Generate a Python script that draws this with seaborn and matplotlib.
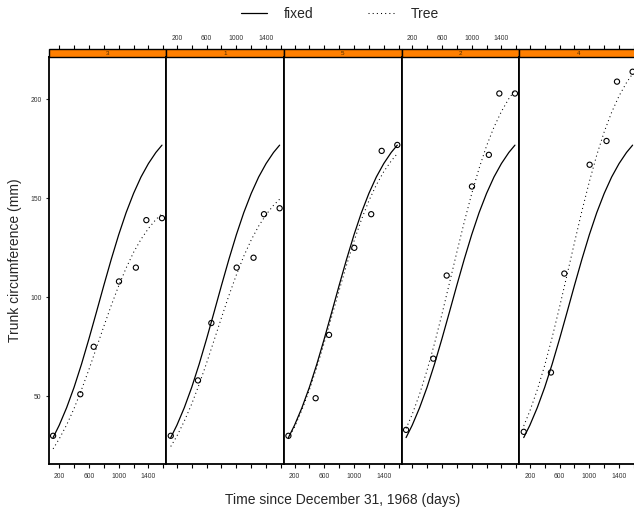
import numpy as np
import pandas as pd
import matplotlib.pyplot as plt
import seaborn as sns
from matplotlib.lines import Line2D
from matplotlib.patches import Rectangle

sns.set_style("white")
plt.rcParams['font.family'] = ['Liberation Sans', 'DejaVu Sans']

# panel order (trees ordered by max circumference)
trees = ['3', '1', '5', '2', '4']

# observed data
ages = [118, 484, 664, 1004, 1231, 1372, 1582]
circ_3 = [30, 51, 75, 108, 115, 139, 140]
circ_1 = [30, 58, 87, 115, 120, 142, 145]
circ_5 = [30, 49, 81, 125, 142, 174, 177]
circ_2 = [33, 69, 111, 156, 172, 203, 203]
circ_4 = [32, 62, 112, 167, 179, 209, 214]

# fitted curves
curve_age = [118, 200, 300, 400, 500, 600, 700, 800, 900, 1000,
             1100, 1200, 1300, 1400, 1500, 1582]
fixed_curve = [29.1, 35.3, 44.2, 54.5, 66.2, 79.0, 92.4, 106.0, 119.2, 131.6,
               142.8, 152.5, 160.8, 167.6, 173.2, 176.9]
tree_3 = [23.4, 28.4, 35.5, 43.8, 53.3, 63.5, 74.4, 85.3, 95.9, 105.8,
          114.8, 122.7, 129.3, 134.8, 139.3, 142.3]
tree_1 = [24.6, 29.8, 37.4, 46.1, 56.0, 66.8, 78.2, 89.7, 100.9, 111.3,
          120.8, 129.0, 136.0, 141.8, 146.5, 149.6]
tree_5 = [28.4, 34.4, 43.1, 53.2, 64.6, 77.1, 90.2, 103.4, 116.3, 128.4,
          139.3, 148.8, 156.8, 163.5, 168.9, 172.6]
tree_2 = [33.7, 40.8, 51.1, 63.1, 76.6, 91.4, 107.0, 122.7, 138.0, 152.3,
          165.2, 176.5, 186.0, 193.9, 200.4, 204.7]
tree_4 = [35.0, 42.5, 53.2, 65.6, 79.7, 95.1, 111.3, 127.6, 143.6, 158.4,
          171.9, 183.6, 193.5, 201.8, 208.5, 213.0]

obs = pd.concat([pd.DataFrame({'Tree': t, 'age': ages, 'circ': c})
                 for t, c in zip(trees, [circ_3, circ_1, circ_5, circ_2, circ_4])])
fits = pd.concat([pd.DataFrame({'Tree': t, 'age': curve_age, 'fixed': fixed_curve, 'tree': c})
                  for t, c in zip(trees, [tree_3, tree_1, tree_5, tree_2, tree_4])])

W, H = 634, 514
fig, axes = plt.subplots(1, 5, figsize=(W / 100, H / 100), dpi=100, sharey=True)
fig.subplots_adjust(left=48.7 / W, right=637 / W, bottom=1 - 463.7 / H,
                    top=1 - 56.7 / H, wspace=0)

strip_h = 7.4 / 407
xticks = [200, 400, 600, 800, 1000, 1200, 1400, 1600]
xlabels = ['200', '', '600', '', '1000', '', '1400', '']

for i, (ax, t) in enumerate(zip(axes, trees)):
    d = fits[fits.Tree == t]
    o = obs[obs.Tree == t]
    sns.lineplot(data=d, x='age', y='fixed', ax=ax, color='black', lw=0.9)
    sns.lineplot(data=d, x='age', y='tree', ax=ax, color='black', lw=0.75,
                 linestyle=(0, (1, 3)))
    sns.scatterplot(data=o, x='age', y='circ', ax=ax, marker='o', s=14,
                    facecolor='none', edgecolor='black', linewidth=0.8)
    ax.set_xlim(59, 1641)
    ax.set_ylim(15.9, 221.6)
    ax.set_xlabel('')
    ax.set_ylabel('')
    for s in ax.spines.values():
        s.set_color('black')
        s.set_linewidth(1.3)
    ax.set_xticks(xticks)
    ax.tick_params(axis='x', direction='out', length=2.9, width=0.8,
                   labelsize=4.9, pad=4, colors='black', bottom=True)
    ax.set_xticklabels(xlabels if i % 2 == 0 else [''] * len(xticks))
    ax.tick_params(axis='x', labelcolor='#333333')

    # strip
    ax.add_patch(Rectangle((0, 1), 1, strip_h, transform=ax.transAxes,
                           facecolor='#FF7F00', edgecolor='black', lw=1.0,
                           clip_on=False, zorder=5))
    ax.text(0.5, 1 + strip_h / 2, t, transform=ax.transAxes, ha='center',
            va='center', fontsize=4.5, color='#4a2a00', zorder=6)

    top = ax.secondary_xaxis(1 + strip_h)
    top.set_xticks(xticks)
    top.set_xticklabels(xlabels if i % 2 == 1 else [''] * len(xticks))
    top.tick_params(axis='x', direction='out', length=2.9, width=0.8,
                    labelsize=4.9, pad=2.5, colors='black', labelcolor='#333333')
    top.spines['top'].set_visible(False)

axes[0].set_yticks([50, 100, 150, 200])
axes[0].tick_params(axis='y', direction='out', length=2.5, width=0.8,
                    labelsize=4.9, pad=2.6, left=True, labelcolor='#333333')

fig.text(343 / W, 1 - 500 / H, 'Time since December 31, 1968 (days)',
         ha='center', va='center', fontsize=10)
fig.text(15 / W, 1 - 260 / H, 'Trunk circumference (mm)', rotation=90,
         ha='center', va='center', fontsize=10)

handles = [Line2D([], [], color='black', lw=0.9),
           Line2D([], [], color='black', lw=0.75, linestyle=(0, (1, 3)))]
fig.legend(handles, ['fixed', 'Tree'], loc='center', ncol=2, frameon=False,
           bbox_to_anchor=(340 / W, 1 - 14 / H), fontsize=10,
           handlelength=1.85, handletextpad=1.2, columnspacing=4.0)

fig.savefig('out.png', dpi=100)
